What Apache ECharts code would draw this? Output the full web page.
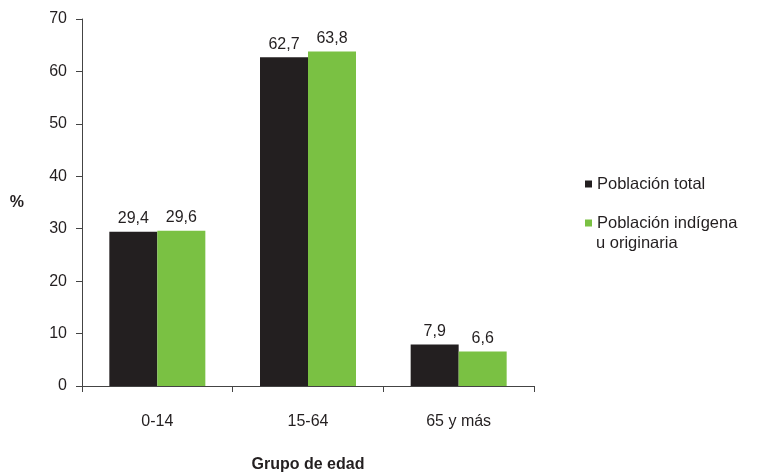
<!DOCTYPE html>
<html><head><meta charset="utf-8">
<script src="https://cdn.jsdelivr.net/npm/echarts@6/dist/echarts.min.js"></script>
<style>html,body{margin:0;padding:0;background:#fff}#c{width:757px;height:474px}</style>
</head><body><div id="c"></div>
<script>
const categories = ['0-14', '15-64', '65 y más'];
const seriesNames = ['Población total', 'Población indígena u originaria'];
const totalValues = [29.4, 62.7, 7.9];
const indigenaValues = [29.6, 63.8, 6.6];
const yTicks = [0, 10, 20, 30, 40, 50, 60, 70];

const fmt = v => String(v).replace('.', ',');
const font = '"Liberation Sans", Arial, Helvetica, sans-serif';
const txt = '#231f20';
const axisCol = '#444';
const chart = echarts.init(document.getElementById('c'));
chart.setOption({
  animation: false,
  textStyle: { fontFamily: font },
  grid: { left: 82, right: 223, top: 19, bottom: 88, containLabel: false, outerBoundsMode: 'none' },
  legend: {
    orient: 'vertical', left: 580, top: 169, itemGap: 19,
    icon: 'rect', itemWidth: 7, itemHeight: 7,
    textStyle: { fontFamily: font, fontSize: 16.5, color: txt, lineHeight: 20 },
    formatter: n => n.replace(' u originaria', ''),
    data: seriesNames
  },
  graphic: [{
    type: 'text', left: 596, top: 235,
    style: { text: 'u originaria', font: '16.5px ' + font, fill: txt }
  }],
  xAxis: {
    type: 'category', data: categories,
    axisLine: { lineStyle: { color: axisCol, width: 1 } },
    axisTick: { show: true, length: 6, lineStyle: { color: axisCol } },
    axisLabel: { fontSize: 16, color: txt, margin: 28, fontFamily: font },
    name: 'Grupo de edad', nameLocation: 'middle', nameGap: 71,
    nameTextStyle: { fontSize: 16, fontWeight: 'bold', color: txt, fontFamily: font }
  },
  yAxis: {
    type: 'value', min: yTicks[0], max: yTicks[yTicks.length - 1], interval: 10,
    axisLine: { show: true, lineStyle: { color: axisCol, width: 1 } },
    axisTick: { show: true, length: 6, lineStyle: { color: axisCol } },
    splitLine: { show: false },
    axisLabel: { fontSize: 16, color: txt, margin: 15, fontFamily: font },
    name: '%', nameLocation: 'middle', nameGap: 58, nameRotate: 0,
    nameTextStyle: { fontSize: 16, fontWeight: 'bold', color: txt, fontFamily: font }
  },
  series: [
    { name: seriesNames[0], type: 'bar', data: totalValues, barWidth: 48, barGap: '0%',
      itemStyle: { color: '#231f20' },
      label: { show: true, position: 'top', distance: 5, fontSize: 16, color: txt, fontFamily: font, formatter: p => fmt(p.value) } },
    { name: seriesNames[1], type: 'bar', data: indigenaValues, barWidth: 48, barGap: '0%',
      itemStyle: { color: '#7ac143' },
      label: { show: true, position: 'top', distance: 5, fontSize: 16, color: txt, fontFamily: font, formatter: p => fmt(p.value) } }
  ]
});
</script></body></html>
